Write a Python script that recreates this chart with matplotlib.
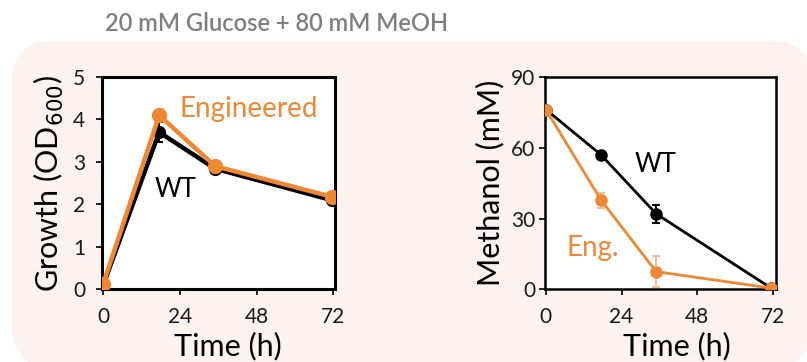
import matplotlib.pyplot as plt
from matplotlib.patches import FancyBboxPatch

plt.rcParams["font.family"] = ["Lato", "DejaVu Sans"]

# sampling times (h)
t = [0, 17.5, 35, 71.5]

# growth, OD600
od_wt = [0.10, 3.70, 2.84, 2.10]
od_wt_err = [0.0, 0.23, 0.08, 0.08]
od_eng = [0.13, 4.10, 2.90, 2.18]
od_eng_err = [0.0, 0.05, 0.05, 0.05]

# methanol remaining, mM
meoh_wt = [76.2, 57.0, 32.0, 0.5]
meoh_wt_err = [1.0, 1.5, 3.7, 0.0]
meoh_eng = [76.2, 37.8, 7.5, 0.5]
meoh_eng_err = [1.0, 3.2, 6.7, 0.0]

ORANGE = "#ef8733"
BG = "#fcf2ef"

fig = plt.figure(figsize=(8.07, 3.62), dpi=100)

# rounded background panel
bg = FancyBboxPatch((12 / 807, -0.014), 0.991, 0.901,
                    boxstyle="round,pad=0,rounding_size=0.05",
                    transform=fig.transFigure, facecolor=BG, edgecolor="none",
                    zorder=-5, mutation_aspect=807 / 362)
fig.patches.append(bg)

fig.text(0.343, 0.934, "20 mM Glucose + 80 mM MeOH", ha="center", va="center",
         fontsize=17, color="#7f7f7f", fontweight="semibold")


def frame(ax, lw, ypad):
    for s in ax.spines.values():
        s.set_linewidth(lw)
        s.set_color("black")
    ax.tick_params(direction="out", length=4, width=1.2, labelsize=15,
                   labelcolor="#1a1a1a")
    ax.tick_params(axis="x", pad=9)
    ax.tick_params(axis="y", pad=ypad)
    ax.set_xticks([0, 24, 48, 72])


# growth panel
ax1 = fig.add_axes([0.126, 0.2008, 0.289, 0.5865])
ax1.errorbar(t, od_wt, yerr=od_wt_err, color="black", lw=3.2, marker="o",
             ms=8.5, capsize=3, elinewidth=1.5, capthick=1.5, zorder=3)
ax1.errorbar(t, od_eng, yerr=od_eng_err, color=ORANGE, lw=3.2, marker="o",
             ms=10, capsize=3, elinewidth=1.5, capthick=1.5, zorder=4)
ax1.set_xlim(-0.5, 72.5)
ax1.set_ylim(0, 5)
ax1.set_yticks([0, 1, 2, 3, 4, 5])
frame(ax1, 2.2, 8)
ax1.text(24, 4.24, "Engineered", color=ORANGE, fontsize=20, va="center")
ax1.text(16.2, 2.34, "WT", color="black", fontsize=18.5, va="center")
ax1.set_ylabel("Growth (OD$_{600}$)", fontsize=22)
ax1.set_xlabel("Time (h)", fontsize=22)
ax1.yaxis.set_label_coords(-0.155, 0.5)
ax1.xaxis.set_label_coords(0.54, -0.2)

# methanol panel
ax2 = fig.add_axes([0.6753, 0.2008, 0.2869, 0.5865])
ax2.errorbar(t, meoh_wt, yerr=meoh_wt_err, color="black", lw=2, marker="o",
             ms=8, capsize=3, elinewidth=1.5, capthick=1.5, zorder=3)
ax2.errorbar(t, meoh_eng, yerr=meoh_eng_err, color=ORANGE, lw=2,
             marker="o", ms=8, capsize=3, elinewidth=1.3, capthick=1.3,
             ecolor="#f4b98c", zorder=4)
ax2.set_xlim(-0.3, 73.2)
ax2.set_ylim(0, 90)
ax2.set_yticks([0, 30, 60, 90])
frame(ax2, 1.8, 3)
ax2.text(28.3, 52.9, "WT", color="black", fontsize=18.5, va="center")
ax2.text(6.6, 17.4, "Eng.", color=ORANGE, fontsize=20, va="center")
ax2.set_ylabel("Methanol (mM)", fontsize=22)
ax2.set_xlabel("Time (h)", fontsize=22)
ax2.yaxis.set_label_coords(-0.175, 0.5)
ax2.xaxis.set_label_coords(0.57, -0.2)

fig.savefig("out.png", dpi=100)
